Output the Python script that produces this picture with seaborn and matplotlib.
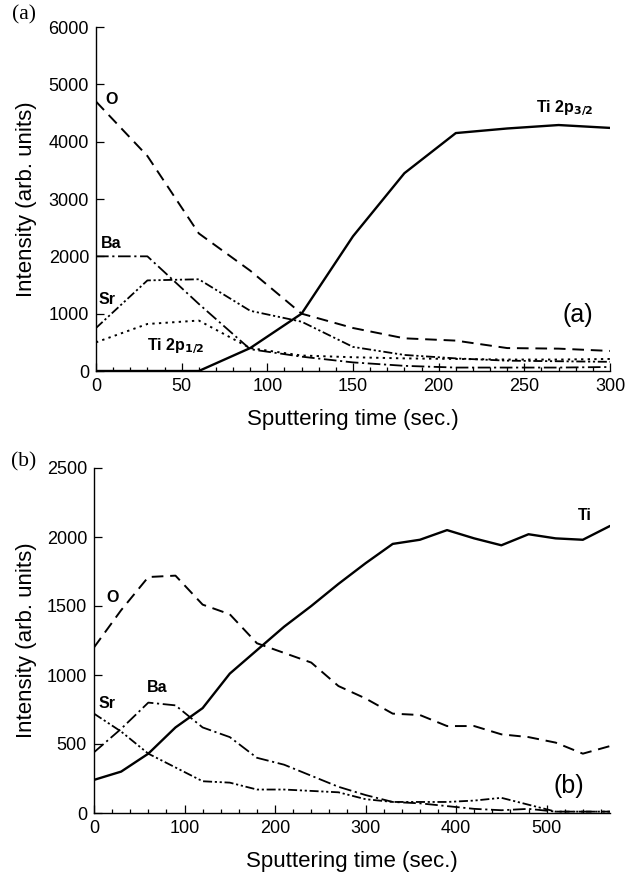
import numpy as np
import pandas as pd
import seaborn as sns
import matplotlib
matplotlib.use("Agg")
import matplotlib.pyplot as plt
from matplotlib.ticker import MultipleLocator

# ---- Panel (a) data ----
time_a = [0, 30, 60, 90, 120, 150, 180, 210, 240, 270, 300]
ti32_a = [0, 0, 0, 400, 1000, 2350, 3450, 4150, 4230, 4290, 4240]
o_a = [4700, 3750, 2400, 1750, 1000, 750, 570, 530, 400, 390, 350]
ba_a = [2000, 2000, 1170, 380, 250, 150, 90, 60, 60, 60, 70]
sr_a = [750, 1580, 1600, 1050, 860, 420, 280, 220, 180, 170, 160]
ti12_a = [500, 820, 880, 400, 270, 240, 220, 210, 200, 200, 210]

# ---- Panel (b) data ----
time_b = [0, 30, 60, 90, 120, 150, 180, 210, 240, 270, 300, 330, 360, 390, 420, 450, 480, 510, 540, 570]
ti_b = [240, 300, 430, 620, 760, 1010, 1180, 1350, 1500, 1660, 1810, 1950, 1980, 2050, 1990, 1940, 2020, 1990, 1980, 2080]
o_b = [1200, 1470, 1710, 1720, 1510, 1440, 1230, 1160, 1090, 920, 830, 720, 710, 630, 630, 570, 550, 510, 430, 485]
ba_b = [440, 610, 800, 780, 620, 550, 400, 350, 270, 190, 130, 80, 70, 50, 30, 20, 30, 10, 10, 10]
sr_b = [720, 590, 430, 330, 230, 220, 170, 170, 160, 150, 100, 80, 80, 80, 90, 110, 60, 10, 10, 10]

sns.set_theme(style="ticks")
plt.rcParams['font.family'] = ['Liberation Sans', 'DejaVu Sans']

W, H = 627, 874
fig = plt.figure(figsize=(W / 100, H / 100), dpi=100)

def ax_rect(l, t, r, b):
    return [l / W, 1 - b / H, (r - l) / W, (b - t) / H]

ax1 = fig.add_axes(ax_rect(96, 27, 610, 371))
ax2 = fig.add_axes(ax_rect(94, 468, 610, 813))

ls_O = (0, (6, 3.5))
ls_Ba = (0, (7, 2, 1.2, 2))
ls_Sr = (0, (5, 1.5, 1.2, 1.5, 1.2, 1.5))
ls_dot = (0, (1.2, 2.2))

df_a = pd.DataFrame({"t": time_a, "Ti32": ti32_a, "O": o_a, "Ba": ba_a, "Sr": sr_a, "Ti12": ti12_a})
sns.lineplot(data=df_a, x="t", y="Ti32", ax=ax1, color="black", linewidth=1.7)
sns.lineplot(data=df_a, x="t", y="O", ax=ax1, color="black", linewidth=1.4, linestyle=ls_O)
sns.lineplot(data=df_a, x="t", y="Ba", ax=ax1, color="black", linewidth=1.3, linestyle=ls_Ba)
sns.lineplot(data=df_a, x="t", y="Sr", ax=ax1, color="black", linewidth=1.3, linestyle=ls_Sr)
sns.lineplot(data=df_a, x="t", y="Ti12", ax=ax1, color="black", linewidth=1.4, linestyle=ls_dot)

df_b = pd.DataFrame({"t": time_b, "Ti": ti_b, "O": o_b, "Ba": ba_b, "Sr": sr_b})
sns.lineplot(data=df_b, x="t", y="Ti", ax=ax2, color="black", linewidth=1.7)
sns.lineplot(data=df_b, x="t", y="O", ax=ax2, color="black", linewidth=1.4, linestyle=ls_O)
sns.lineplot(data=df_b, x="t", y="Ba", ax=ax2, color="black", linewidth=1.3, linestyle=ls_Ba)
sns.lineplot(data=df_b, x="t", y="Sr", ax=ax2, color="black", linewidth=1.3, linestyle=ls_Sr)

for ax in (ax1, ax2):
    sns.despine(ax=ax)
    for s in ("left", "bottom"):
        ax.spines[s].set_color("black")
        ax.spines[s].set_linewidth(1.0)
    ax.tick_params(axis="both", which="both", direction="in", colors="black", labelsize=13, width=0.9)
    ax.tick_params(axis="both", which="major", length=6, pad=5)
    ax.tick_params(axis="x", which="minor", length=3)
    ax.set_ylabel("Intensity (arb. units)", fontsize=16, color="black", va="center")
    ax.set_xlabel("Sputtering time (sec.)", fontsize=16, color="black", va="center")

ax1.set_xlim(0, 300)
ax1.set_ylim(0, 6000)
ax1.xaxis.set_major_locator(MultipleLocator(50))
ax1.xaxis.set_minor_locator(MultipleLocator(10))
ax1.yaxis.set_major_locator(MultipleLocator(1000))

ax2.set_xlim(0, 570)
ax2.set_ylim(0, 2500)
ax2.set_xticks([0, 100, 200, 300, 400, 500])
ax2.xaxis.set_minor_locator(MultipleLocator(20))
ax2.yaxis.set_major_locator(MultipleLocator(500))

ax1.yaxis.set_label_coords((27 - 96) / 514, 0.5)
ax2.yaxis.set_label_coords((27 - 94) / 516, 0.5)
ax1.xaxis.set_label_coords(0.5, -(420 - 371) / 344)
ax2.xaxis.set_label_coords(0.5, -(861 - 813) / 345)

bold = dict(fontweight="bold", fontsize=11.5, color="black")
ax1.text(9, 4730, "O", ha="center", va="center", **bold)
ax1.text(9, 2216, "Ba", ha="center", va="center", **bold)
ax1.text(6.5, 1239, "Sr", ha="center", va="center", **bold)
ax1.text(29.5, 430, r"Ti 2p$_{\mathbf{1/2}}$", ha="left", va="center", **bold)
ax1.text(257, 4590, r"Ti 2p$_{\mathbf{3/2}}$", ha="left", va="center", **bold)
ax1.text(281, 977, "(a)", ha="center", va="center", fontsize=18, color="black")

ax2.text(21, 1558, "O", ha="center", va="center", **bold)
ax2.text(70, 906, "Ba", ha="center", va="center", **bold)
ax2.text(14, 792, "Sr", ha="center", va="center", **bold)
ax2.text(542, 2154, "Ti", ha="center", va="center", **bold)
ax2.text(525, 198, "(b)", ha="center", va="center", fontsize=18, color="black")

fig.text(24 / W, 1 - 15 / H, "(a)", ha="center", va="center", fontsize=15.5,
         family=["Liberation Serif", "DejaVu Serif"], color="black")
fig.text(24 / W, 1 - 462 / H, "(b)", ha="center", va="center", fontsize=15.5,
         family=["Liberation Serif", "DejaVu Serif"], color="black")

fig.savefig("out.png", dpi=100, facecolor="white")
